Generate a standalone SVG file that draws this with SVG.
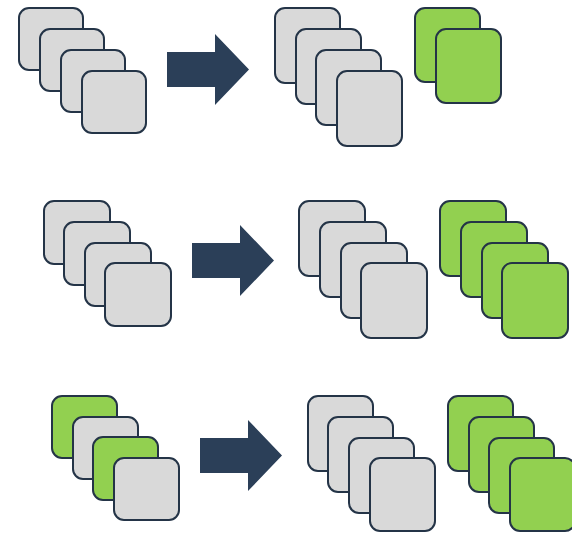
<svg xmlns="http://www.w3.org/2000/svg" xmlns:xlink="http://www.w3.org/1999/xlink" width="572" height="533" viewBox="0 0 572 533">
  <style>
    .card { stroke: #243447; stroke-width: 2; }
    .gray { fill: #d9d9d9; }
    .green { fill: #92d050; }
    .arrow { fill: #2b3f58; }
  </style>
  <defs>
    <!-- block arrow, origin at the top-left of its shaft -->
    <path id="blockArrow" class="arrow" d="M0,0 H48 V-18 L82,17.5 L48,53 V35 H0 Z"/>
  </defs>
  <rect width="572" height="533" fill="#ffffff"/>

  <!-- row 1 -->
  <g id="row1-input">
    <rect class="card gray" x="19" y="8" width="64" height="62" rx="10"/>
    <rect class="card gray" x="40" y="29" width="64" height="62" rx="10"/>
    <rect class="card gray" x="61" y="50" width="64" height="62" rx="10"/>
    <rect class="card gray" x="82" y="71" width="64" height="62" rx="10"/>
  </g>
  <g id="row1-output-gray">
    <rect class="card gray" x="275" y="8" width="65" height="75" rx="10"/>
    <rect class="card gray" x="296" y="29" width="65" height="75" rx="10"/>
    <rect class="card gray" x="316" y="50" width="65" height="75" rx="10"/>
    <rect class="card gray" x="337" y="71" width="65" height="75" rx="10"/>
  </g>
  <g id="row1-output-green">
    <rect class="card green" x="415" y="8" width="65" height="74" rx="10"/>
    <rect class="card green" x="436" y="29" width="65" height="74" rx="10"/>
  </g>

  <!-- row 2 -->
  <g id="row2-input">
    <rect class="card gray" x="44" y="201" width="66" height="63" rx="10"/>
    <rect class="card gray" x="64" y="222" width="66" height="63" rx="10"/>
    <rect class="card gray" x="85" y="243" width="66" height="63" rx="10"/>
    <rect class="card gray" x="105" y="263" width="66" height="63" rx="10"/>
  </g>
  <g id="row2-output-gray">
    <rect class="card gray" x="299" y="201" width="66" height="75" rx="10"/>
    <rect class="card gray" x="320" y="222" width="66" height="75" rx="10"/>
    <rect class="card gray" x="341" y="243" width="66" height="75" rx="10"/>
    <rect class="card gray" x="361" y="263" width="66" height="75" rx="10"/>
  </g>
  <g id="row2-output-green">
    <rect class="card green" x="440" y="201" width="66" height="75" rx="10"/>
    <rect class="card green" x="461" y="222" width="66" height="75" rx="10"/>
    <rect class="card green" x="482" y="243" width="66" height="75" rx="10"/>
    <rect class="card green" x="502" y="263" width="66" height="75" rx="10"/>
  </g>

  <!-- row 3 -->
  <g id="row3-input">
    <rect class="card green" x="52" y="396" width="65" height="62" rx="10"/>
    <rect class="card gray" x="73" y="417" width="65" height="62" rx="10"/>
    <rect class="card green" x="93" y="437" width="65" height="63" rx="10"/>
    <rect class="card gray" x="114" y="458" width="65" height="62" rx="10"/>
  </g>
  <g id="row3-output-gray">
    <rect class="card gray" x="308" y="396" width="65" height="75" rx="10"/>
    <rect class="card gray" x="328" y="417" width="65" height="75" rx="10"/>
    <rect class="card gray" x="349" y="438" width="65" height="75" rx="10"/>
    <rect class="card gray" x="370" y="458" width="65" height="73" rx="10"/>
  </g>
  <g id="row3-output-green">
    <rect class="card green" x="448" y="396" width="65" height="75" rx="10"/>
    <rect class="card green" x="469" y="417" width="65" height="75" rx="10"/>
    <rect class="card green" x="489" y="438" width="65" height="75" rx="10"/>
    <rect class="card green" x="510" y="458" width="65" height="73" rx="10"/>
  </g>

  <!-- arrows -->
  <g id="connectors">
    <use xlink:href="#blockArrow" href="#blockArrow" x="167" y="52"/>
    <use xlink:href="#blockArrow" href="#blockArrow" x="192" y="243"/>
    <use xlink:href="#blockArrow" href="#blockArrow" x="200" y="438"/>
  </g>
</svg>
